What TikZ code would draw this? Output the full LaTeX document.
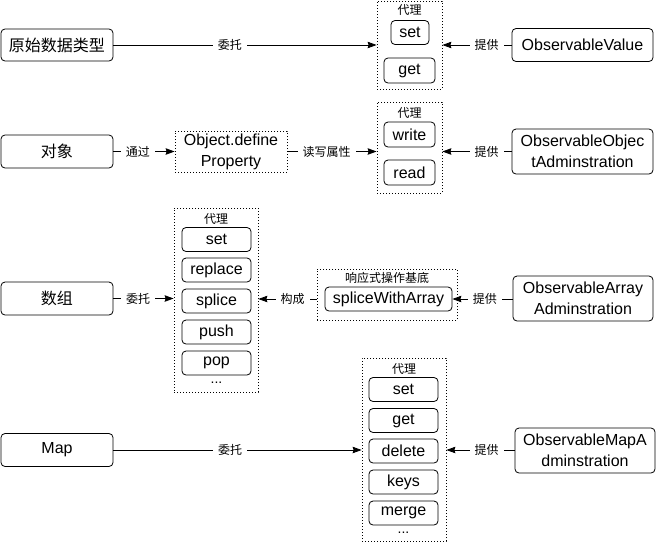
\documentclass[tikz,border=0pt]{standalone}
\usepackage{fontspec}
\setmainfont{Liberation Sans}
\newfontfamily\cjk{Noto Sans CJK SC}
\usetikzlibrary{arrows.meta}
\tikzset{
  box/.style={draw, rounded corners=4pt, line width=0.8pt, inner sep=0pt, align=center, font=\fontsize{16}{21}\selectfont},
  item/.style={box, minimum width=69pt, minimum height=24pt},
  grp/.style={draw, line width=0.8pt, dash pattern=on 1pt off 2pt, inner sep=0pt},
  ttl/.style={font=\cjk\fontsize{12}{14}\selectfont, inner sep=0pt},
  lbl/.style={fill=white, font=\cjk\fontsize{12}{14}\selectfont, inner xsep=5pt, inner ysep=2pt},
  arr/.style={-{Stealth[length=9pt,width=6.5pt,inset=1pt]}, line width=0.8pt},
  dots/.style={font=\fontsize{14}{16}\selectfont, inner sep=0pt}
}
\begin{document}
\begin{tikzpicture}[x=1pt,y=-1pt]
\useasboundingbox (0,0) rectangle (657,542);

% Row 1
\node[box, minimum width=112pt, minimum height=32pt, font=\cjk\fontsize{16}{21}\selectfont] (a1) at (57,45) {原始数据类型};
\node[grp, minimum width=65pt, minimum height=88pt] (g1) at (409.5,45) {};
\node[ttl] (t1) at (409.5,10) {代理};
\node[box, minimum width=38pt, minimum height=24pt] (s1) at (410,32.5) {set};
\node[box, minimum width=51pt, minimum height=25pt] (s2) at (409.5,70.5) {get};
\node[box, minimum width=141pt, minimum height=33pt] (v1) at (582.5,45) {ObservableValue};
\draw[arr] (a1) -- node[lbl, pos=0.443] {委托} (g1);
\draw[arr] (v1) -- node[lbl, pos=0.36] {提供} (g1);

% Row 2
\node[box, minimum width=112pt, minimum height=33pt, font=\cjk\fontsize{16}{21}\selectfont] (a2) at (57,151.5) {对象};
\node[grp, minimum width=112pt, minimum height=41pt, align=center, font=\fontsize{16}{21}\selectfont] (od) at (231,151.5) {Object.define\\Property};
\node[grp, minimum width=65pt, minimum height=91pt] (g2) at (409.5,147.5) {};
\node[ttl] (t2) at (409.5,113) {代理};
\node[box, minimum width=51pt, minimum height=25pt] (w2) at (409.5,134.5) {write};
\node[box, minimum width=51pt, minimum height=25pt] (r2) at (409.5,172.5) {read};
\node[box, minimum width=141pt, minimum height=45pt] (v2) at (582.5,151.5) {ObservableObjec\\tAdminstration};
\draw[arr] (a2) -- node[lbl, pos=0.4] {通过} (od);
\draw[arr] (od.east) -- node[lbl, pos=0.44] {读写属性} (od.east -| g2.west);
\draw[arr] (v2) -- node[lbl, pos=0.36] {提供} (v2.west -| g2.east);

% Row 3
\node[box, minimum width=112pt, minimum height=33pt, font=\cjk\fontsize{16}{21}\selectfont] (a3) at (57,298.5) {数组};
\node[grp, minimum width=84pt, minimum height=184pt] (g3) at (216,300) {};
\node[ttl] (t3) at (216,219) {代理};
\node[item] (i31) at (216.5,239.5) {set};
\node[item] (i32) at (216.5,270) {replace};
\node[item] (i33) at (216.5,301) {splice};
\node[item] (i34) at (216.5,332) {push};
\node[item] (i35) at (216.5,363) {pop};
\node[dots] (d3) at (216.5,383) {...};
\node[grp, minimum width=140pt, minimum height=51pt] (bg) at (387,294.5) {};
\node[ttl] (tb) at (387,278) {响应式操作基底};
\node[box, minimum width=127pt, minimum height=24pt] (sw) at (388.5,299) {spliceWithArray};
\node[box, minimum width=140pt, minimum height=45pt] (v3) at (583,298.5) {ObservableArray\\Adminstration};
\draw[arr] (a3.east) -- node[lbl, pos=0.41] {委托} (a3.east -| g3.west);
\draw[arr] (bg.west |- sw) -- node[lbl, pos=0.41] {构成} (g3.east |- sw);
\draw[arr] (v3.west |- sw) -- node[lbl, pos=0.46] {提供} (sw.east);

% Row 4
\node[box, minimum width=112pt, minimum height=33pt] (a4) at (57,450) {Map};
\node[grp, minimum width=84pt, minimum height=183pt] (g4) at (404,449.5) {};
\node[ttl] (t4) at (404,369) {代理};
\node[item] (i41) at (403.5,389.5) {set};
\node[item] (i42) at (403.5,420.5) {get};
\node[item] (i43) at (403.5,451) {delete};
\node[item] (i44) at (403.5,482) {keys};
\node[item] (i45) at (403.5,513) {merge};
\node[dots] (d4) at (403.5,533) {...};
\node[box, minimum width=140pt, minimum height=45pt] (v4) at (585,450.5) {ObservableMapA\\dminstration};
\draw[arr] (a4.east) -- node[lbl, pos=0.47] {委托} (a4.east -| g4.west);
\draw[arr] (v4.west |- a4) -- node[lbl, pos=0.41] {提供} (a4 -| g4.east);
\end{tikzpicture}
\end{document}
